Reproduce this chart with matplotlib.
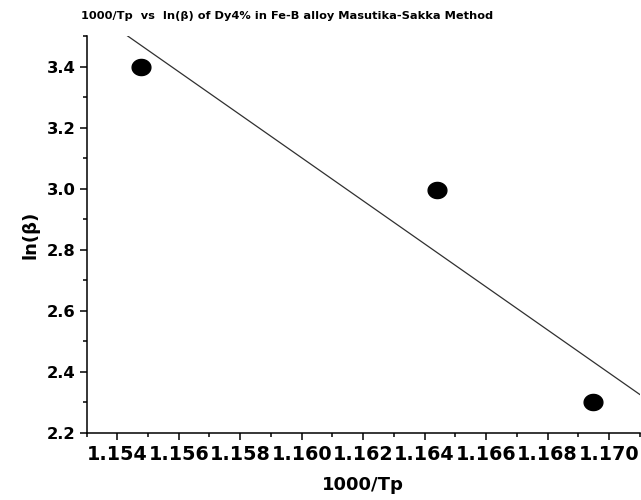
import numpy as np
import matplotlib
matplotlib.use("Agg")
import matplotlib.pyplot as plt
from matplotlib.path import Path
from matplotlib.ticker import MultipleLocator, FormatStrFormatter

# data (Masutika-Sakka plot)
inv_tp = [1.15476, 1.16441, 1.16947]
ln_beta = [3.40, 2.995, 2.30]

x_range = (1.153, 1.171)
y_range = (2.2, 3.5)

plt.rcParams["font.family"] = ["DejaVu Sans"]
plt.rcParams["font.weight"] = "bold"

fig = plt.figure(figsize=(6.41, 5.0), dpi=100)
ax = fig.add_axes([0.135, 0.134, 0.863, 0.794])

# slightly flattened ellipse marker like Origin's
t = np.linspace(0, 2 * np.pi, 60)
ellipse = Path(np.column_stack([np.cos(t), 0.86 * np.sin(t)]), closed=True)

ax.plot(inv_tp, ln_beta, linestyle="none", marker=ellipse, markersize=13.5,
        color="black", zorder=3)

# linear fit over the whole x range
slope, icpt = np.polyfit(inv_tp, ln_beta, 1)
xs = np.array(x_range)
ax.plot(xs, slope * xs + icpt, color="#303030", linewidth=0.9, zorder=2)

ax.set_xlim(*x_range)
ax.set_ylim(*y_range)

ax.xaxis.set_major_locator(MultipleLocator(0.002))
ax.xaxis.set_minor_locator(MultipleLocator(0.001))
ax.xaxis.set_major_formatter(FormatStrFormatter("%.3f"))
ax.yaxis.set_major_locator(MultipleLocator(0.2))
ax.yaxis.set_minor_locator(MultipleLocator(0.1))
ax.yaxis.set_major_formatter(FormatStrFormatter("%.1f"))

for s in ["top", "right"]:
    ax.spines[s].set_visible(False)
for s in ["left", "bottom"]:
    ax.spines[s].set_linewidth(1.1)

ax.tick_params(which="major", direction="out", length=5, width=1.1)
ax.tick_params(which="minor", direction="out", length=3, width=1.1)
ax.tick_params(axis="x", labelsize=13.8, pad=4)
ax.tick_params(axis="y", labelsize=11.8, pad=3)
for lab in ax.get_xticklabels() + ax.get_yticklabels():
    lab.set_fontweight("bold")

ax.set_xlabel("1000/Tp", fontsize=13, fontweight="bold", labelpad=8)
ax.set_ylabel("ln(β)", fontsize=13, fontweight="bold", labelpad=5)

fig.text(0.448, 0.968, "1000/Tp  vs  ln(β) of Dy4% in Fe-B alloy Masutika-Sakka Method",
         ha="center", va="center", fontsize=8.2, fontweight="bold")

fig.savefig("out.png", dpi=100)
